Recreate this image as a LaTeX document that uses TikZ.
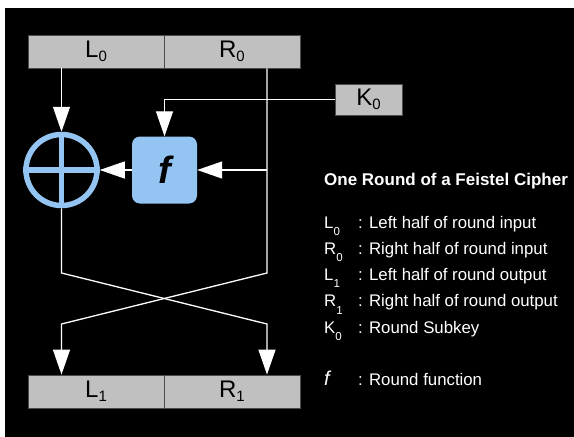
\documentclass[tikz,border=0pt]{standalone}
\usepackage{fontspec}
\setmainfont{Liberation Sans}
\usetikzlibrary{arrows.meta}
\definecolor{bargray}{RGB}{192,192,192}
\definecolor{opblue}{RGB}{148,196,242}
% subscripts in the register boxes and in the legend
\newcommand\boxsub[1]{\raisebox{-4pt}{\fontsize{15}{15}\selectfont #1}}
\newcommand\legsub[1]{\raisebox{-7.5pt}{\fontsize{11.5}{11.5}\selectfont #1}}
\begin{document}
\begin{tikzpicture}[x=1pt,y=-1pt,
  wire/.style={draw=white, line width=1.3pt},
  arr/.style={wire, -{Triangle[width=17pt,length=25pt]}},
  half/.style={draw=black!70, line width=0.8pt, fill=bargray, minimum width=136pt,
    minimum height=33pt, inner sep=0pt, font=\fontsize{24}{24}\selectfont},
  keybox/.style={half, minimum width=67pt, minimum height=31pt},
  fbox/.style={fill=opblue, rounded corners=8pt, minimum width=65pt, minimum height=67pt,
    inner sep=0pt, font=\fontsize{38}{38}\selectfont\bfseries\itshape},
  xorring/.style={circle, draw=opblue, line width=5.5pt, minimum size=71pt, inner sep=0pt},
  xorbar/.style={draw=opblue, line width=5.5pt},
  legtitle/.style={text=white, anchor=base west, inner sep=0pt, font=\fontsize{17}{20}\selectfont\bfseries},
  leg/.style={text=white, anchor=base west, inner sep=0pt, font=\fontsize{16.8}{20}\selectfont},
]
% canvas
\useasboundingbox (0,0) rectangle (574,437);
\fill[white] (0,0) rectangle (574,437);
\fill[black] (5,8) rectangle (574,437);

% input and output halves
\node[half] (L0) at (96,51.5) {L\boxsub{0}};
\node[half] (R0) at (232,51.5) {R\boxsub{0}};
\node[half] (L1) at (96,391.5) {L\boxsub{1}};
\node[half] (R1) at (232,391.5) {R\boxsub{1}};

% round subkey
\node[keybox] (K0) at (368.5,99.5) {K\boxsub{0}};

% round function and XOR
\node[fbox] (F) at (164.5,170) {f};
\node[xorring] (X) at (61.5,170) {};
\draw[xorbar] (X.north) -- (X.south);
\draw[xorbar] (X.west) -- (X.east);

% routing points
\coordinate (tap) at (267,170);
\coordinate (cl1) at (61.5,273);
\coordinate (cr1) at (267,273);
\coordinate (cl2) at (61.5,324);
\coordinate (cr2) at (267,324);

% connectors
\draw[arr] (X.north |- L0.south) -- (X.north);
\draw[arr] (K0.west) -- (K0.west -| F.north) -- (F.north);
\draw[arr] (tap) -- (F.east);
\draw[arr] (F.west) -- (X.east);
\draw[arr] (tap |- R0.south) -- (cr1) -- (cl2) -- (cl2 |- L1.north);
\draw[arr] (X.south) -- (cl1) -- (cr2) -- (cr2 |- R1.north);

% legend
\node[legtitle] (title) at (324,185) {One Round of a Feistel Cipher};
\node[leg] (s1) at (324,228) {L\legsub{0}};
\node[leg] (d1) at (358,228) {: Left half of round input};
\node[leg] (s2) at (324,254) {R\legsub{0}};
\node[leg] (d2) at (358,254) {: Right half of round input};
\node[leg] (s3) at (324,280) {L\legsub{1}};
\node[leg] (d3) at (358,280) {: Left half of round output};
\node[leg] (s4) at (324,306.5) {R\legsub{1}};
\node[leg] (d4) at (358,306.5) {: Right half of round output};
\node[leg] (s5) at (324,333) {K\legsub{0}};
\node[leg] (d5) at (358,333) {: Round Subkey};
\node[leg, font=\fontsize{20}{20}\selectfont\itshape] (s6) at (324,385) {f};
\node[leg] (d6) at (358,385) {: Round function};
\end{tikzpicture}
\end{document}
